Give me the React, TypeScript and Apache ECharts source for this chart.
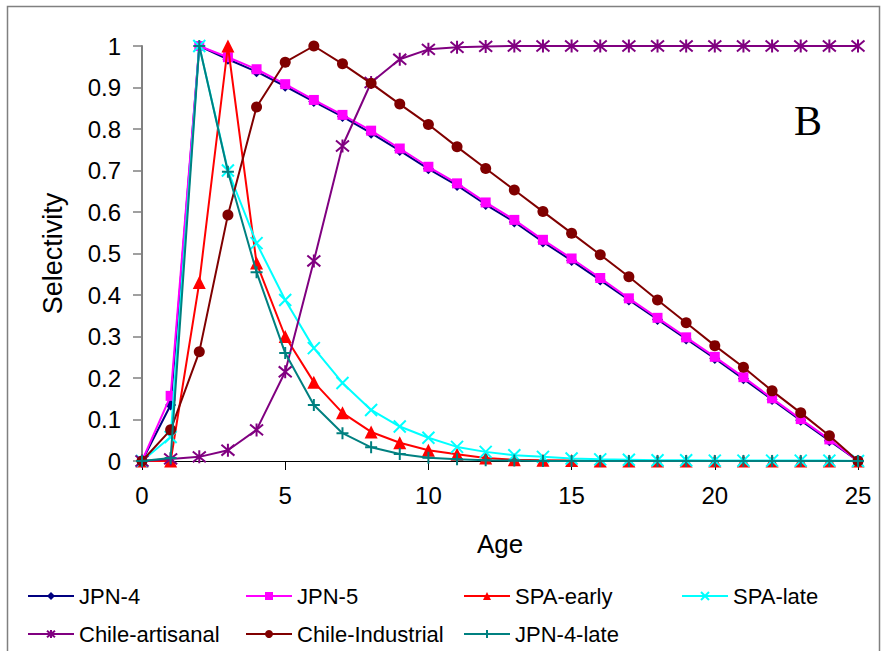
import React, { useEffect, useRef } from "react";
import * as echarts from "echarts";

const ages = [0, 1, 2, 3, 4, 5, 6, 7, 8, 9, 10, 11, 12, 13, 14, 15, 16, 17, 18, 19, 20, 21, 22, 23, 24, 25];

const jpn4 = [0, 0.135, 1, 0.968, 0.938, 0.903, 0.866, 0.83, 0.79, 0.748, 0.704, 0.664, 0.618, 0.576, 0.528, 0.483, 0.436, 0.388, 0.341, 0.294, 0.247, 0.198, 0.148, 0.098, 0.049, 0];
const jpn5 = [0, 0.157, 1, 0.973, 0.944, 0.908, 0.87, 0.834, 0.796, 0.753, 0.709, 0.669, 0.623, 0.581, 0.533, 0.488, 0.441, 0.392, 0.345, 0.298, 0.251, 0.202, 0.151, 0.101, 0.052, 0];
const spaEarly = [0, 0, 0.43, 1, 0.477, 0.3, 0.19, 0.116, 0.07, 0.044, 0.026, 0.016, 0.007, 0.003, 0.002, 0.001, 0, 0, 0, 0, 0, 0, 0, 0, 0, 0];
const spaLate = [0, 0.058, 1, 0.7, 0.525, 0.388, 0.272, 0.188, 0.123, 0.083, 0.056, 0.034, 0.022, 0.014, 0.01, 0.006, 0.004, 0.003, 0.002, 0.002, 0.001, 0.001, 0.001, 0.001, 0.001, 0];
const chileArtisanal = [0, 0.005, 0.01, 0.026, 0.075, 0.215, 0.482, 0.759, 0.912, 0.968, 0.992, 0.997, 0.999, 1, 1, 1, 1, 1, 1, 1, 1, 1, 1, 1, 1, 1];
const chileIndustrial = [0, 0.075, 0.263, 0.593, 0.853, 0.961, 1, 0.957, 0.91, 0.86, 0.811, 0.757, 0.705, 0.653, 0.601, 0.549, 0.497, 0.444, 0.388, 0.333, 0.278, 0.226, 0.169, 0.116, 0.061, 0];
const jpn4Late = [0, 0.007, 1, 0.697, 0.455, 0.26, 0.135, 0.067, 0.033, 0.017, 0.008, 0.004, 0.002, 0.001, 0, 0, 0, 0, 0, 0, 0, 0, 0, 0, 0, 0];

const seriesNames = ["JPN-4", "JPN-5", "SPA-early", "SPA-late", "Chile-artisanal", "Chile-Industrial", "JPN-4-late"];
const seriesColors = ["#000080", "#FF00FF", "#FF0000", "#00FFFF", "#800080", "#800000", "#008080"];
const seriesValues = [jpn4, jpn5, spaEarly, spaLate, chileArtisanal, chileIndustrial, jpn4Late];

const xTicks = [0, 5, 10, 15, 20, 25];

const X_SYM = "path://M0,0L10,10M10,0L0,10";
const STAR_SYM = "path://M0,1L10,11M10,1L0,11M5,0L5,12";
const PLUS_SYM = "path://M5,0L5,10M0,5L10,5";

const symbolDefs = [
  { symbol: "diamond", size: 11, stroke: false },
  { symbol: "rect", size: 10, stroke: false },
  { symbol: "triangle", size: 13, stroke: false },
  { symbol: X_SYM, size: 12, stroke: true },
  { symbol: STAR_SYM, size: 13, stroke: true },
  { symbol: "circle", size: 11, stroke: false },
  { symbol: PLUS_SYM, size: 12, stroke: true },
];

const legendPos = [
  { left: 27, top: 585 },
  { left: 245, top: 585 },
  { left: 463, top: 585 },
  { left: 681, top: 585 },
  { left: 27, top: 623 },
  { left: 245, top: 623 },
  { left: 463, top: 623 },
];

const FONT = "'Liberation Sans', Arial, sans-serif";

export default function App() {
  const ref = useRef<HTMLDivElement>(null);
  useEffect(() => {
    if (!ref.current) return;
    const chart = echarts.init(ref.current, null, { renderer: "svg" });
    const series = seriesNames.map((name, i) => {
      const def = symbolDefs[i];
      return {
        name,
        type: "line",
        data: ages.map((a, j) => [a, seriesValues[i][j]]),
        color: seriesColors[i],
        symbol: def.symbol,
        symbolSize: def.size,
        showAllSymbol: true,
        lineStyle: { color: seriesColors[i], width: 2 },
        itemStyle: def.stroke
          ? { color: seriesColors[i], borderColor: seriesColors[i], borderWidth: 2 }
          : { color: seriesColors[i], borderWidth: 0 },
        emphasis: { disabled: true },
        z: 2 + i,
      };
    });
    const legends = seriesNames.map((name, i) => ({
      data: [name],
      left: legendPos[i].left,
      top: legendPos[i].top,
      orient: "horizontal",
      itemWidth: 46,
      itemHeight: 10,
      itemGap: 0,
      padding: 0,
      selectedMode: false,
      textStyle: { fontFamily: FONT, fontSize: 22, color: "#000" },
    }));
    chart.setOption({
      animation: false,
      backgroundColor: "#ffffff",
      grid: { left: 142, right: 29, top: 46, bottom: 190, containLabel: false },
      xAxis: {
        type: "value",
        min: 0,
        max: 25,
        interval: 5,
        name: "Age",
        nameLocation: "middle",
        nameGap: 70,
        nameTextStyle: { fontFamily: FONT, fontSize: 26, color: "#000" },
        axisLine: { show: true, onZero: false, lineStyle: { color: "#000", width: 1 } },
        axisTick: { show: true, length: 9, lineStyle: { color: "#000" } },
        axisLabel: { fontFamily: FONT, fontSize: 24, color: "#000", margin: 22, customValues: xTicks },
        splitLine: { show: false },
      },
      yAxis: {
        type: "value",
        min: 0,
        max: 1,
        interval: 0.1,
        name: "Selectivity",
        nameLocation: "middle",
        nameGap: 76,
        nameTextStyle: { fontFamily: FONT, fontSize: 27, color: "#000" },
        axisLine: { show: true, lineStyle: { color: "#808080", width: 2 } },
        axisTick: { show: true, length: 9, lineStyle: { color: "#808080", width: 1.5 } },
        axisLabel: {
          fontFamily: FONT,
          fontSize: 24,
          color: "#000",
          margin: 21,
          formatter: (v: number) => String(Math.round(v * 10) / 10),
        },
        splitLine: { show: false },
      },
      legend: legends,
      graphic: [
        {
          type: "rect",
          shape: { x: 7.5, y: 6.5, width: 872, height: 700 },
          style: { fill: "none", stroke: "#808080", lineWidth: 1.5 },
          silent: true,
          z: -1,
        },
        {
          type: "text",
          left: 794,
          top: 100,
          style: { text: "B", font: "42px 'Liberation Serif', 'Times New Roman', serif", fill: "#000" },
        },
      ],
      series,
    });
    return () => chart.dispose();
  }, []);
  return <div ref={ref} style={{ position: "absolute", left: 0, top: 0, width: 887, height: 651 }} />;
}
